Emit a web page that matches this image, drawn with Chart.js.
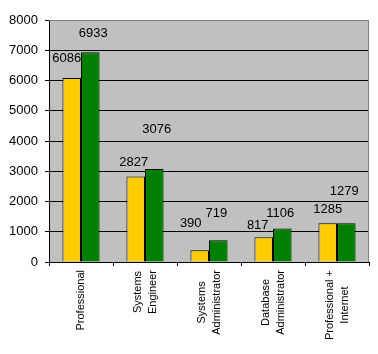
<!DOCTYPE html>
<html>
<head>
<meta charset="utf-8">
<script src="https://cdn.jsdelivr.net/npm/chart.js@4"></script>
<style>
html,body{margin:0;padding:0;background:#fff;}
#wrap{width:378px;height:354px;position:relative;}
</style>
</head>
<body>
<div id="wrap"><canvas id="c" width="378" height="354"></canvas></div>
<script>
const categories = ['Professional', ['Systems','Engineer'], ['Systems','Administrator'], ['Database','Administrator'], ['Professional +','Internet']];
const seriesA = [6086, 2827, 390, 817, 1285];
const seriesB = [6933, 3076, 719, 1106, 1279];
const yTicks = [0, 1000, 2000, 3000, 4000, 5000, 6000, 7000, 8000];

const FONT = '"Liberation Sans", Arial, sans-serif';

const plotBg = {
  id: 'plotBg',
  beforeDraw(chart) {
    const {ctx, chartArea: a} = chart;
    ctx.save();
    ctx.fillStyle = '#C0C0C0';
    ctx.fillRect(a.left, a.top, a.right - a.left, a.bottom - a.top);
    ctx.restore();
  },
  afterDatasetsDraw(chart) {
    const {ctx, chartArea: a} = chart;
    ctx.save();
    ctx.strokeStyle = '#808080';
    ctx.lineWidth = 1;
    ctx.beginPath();
    ctx.moveTo(a.left, a.top + 0.5);
    ctx.lineTo(a.right - 0.5, a.top + 0.5);
    ctx.lineTo(a.right - 0.5, a.bottom);
    ctx.stroke();
    ctx.restore();
  }
};

const valueLabels = {
  id: 'valueLabels',
  afterDatasetsDraw(chart, args, opts) {
    const {ctx} = chart;
    ctx.save();
    ctx.font = '13px ' + FONT;
    ctx.fillStyle = '#000';
    ctx.textAlign = 'center';
    ctx.textBaseline = 'middle';
    chart.data.datasets.forEach((ds, di) => {
      const meta = chart.getDatasetMeta(di);
      meta.data.forEach((bar, i) => {
        const dx = opts.dx[di][i], dy = opts.dy[di][i];
        ctx.fillText(String(ds.data[i]), bar.x + dx, bar.y + dy);
      });
    });
    ctx.restore();
  }
};

const xLabels = {
  id: 'xLabels',
  afterDraw(chart) {
    const {ctx} = chart;
    const xs = chart.scales.x;
    const top = xs.top + 8;
    const lh = 15;
    ctx.save();
    ctx.font = '11px ' + FONT;
    ctx.fillStyle = '#000';
    ctx.textAlign = 'center';
    ctx.textBaseline = 'middle';
    chart.data.labels.forEach((lab, i) => {
      const lines = Array.isArray(lab) ? lab : [lab];
      const maxW = Math.max(...lines.map(l => ctx.measureText(l).width));
      const cx = xs.getPixelForValue(i);
      ctx.save();
      ctx.translate(cx, top + maxW / 2);
      ctx.rotate(-Math.PI / 2);
      lines.forEach((l, k) => {
        ctx.fillText(l, 0, (k - (lines.length - 1) / 2) * lh);
      });
      ctx.restore();
    });
    ctx.restore();
  }
};

new Chart(document.getElementById('c'), {
  type: 'bar',
  data: {
    labels: categories,
    datasets: [
      {label: 'Series 1', data: seriesA, backgroundColor: '#FFCC00', borderColor: '#000', borderWidth: 1, borderSkipped: 'bottom'},
      {label: 'Series 2', data: seriesB, backgroundColor: '#008000', borderColor: '#000', borderWidth: 1, borderSkipped: 'bottom'}
    ]
  },
  options: {
    responsive: false,
    animation: false,
    devicePixelRatio: 1,
    layout: {padding: {top: 20, right: 9, left: 0, bottom: 0}},
    datasets: {bar: {categoryPercentage: 0.58, barPercentage: 1.0}},
    plugins: {
      legend: {display: false},
      tooltip: {enabled: false},
      valueLabels: {
        dx: [[-5, -2, -9, -6, 0], [3, 2.5, -2, -2, -2]],
        dy: [[-19, -14.5, -27, -12, -14], [-19, -40, -27, -15.5, -32]]
      }
    },
    scales: {
      x: {
        afterFit(s) { s.height = 92; },
        grid: {display: true, drawOnChartArea: false, drawTicks: true, tickLength: 4, color: '#000', offset: true},
        border: {display: true, color: '#000', width: 1},
        ticks: {display: false}
      },
      y: {
        min: 0, max: 8000,
        afterFit(s) { s.width = 49; },
        afterBuildTicks(s) { s.ticks = yTicks.map(v => ({value: v})); },
        grid: {color: ctx => (ctx.tick && ctx.tick.value === 8000) ? 'rgba(0,0,0,0)' : '#000', tickColor: '#000', tickLength: 4, lineWidth: 1},
        border: {display: true, color: '#000', width: 1},
        ticks: {font: {family: FONT, size: 13}, color: '#000', padding: 7, callback: v => String(v)}
      }
    }
  },
  plugins: [plotBg, valueLabels, xLabels]
});
</script>
</body>
</html>
